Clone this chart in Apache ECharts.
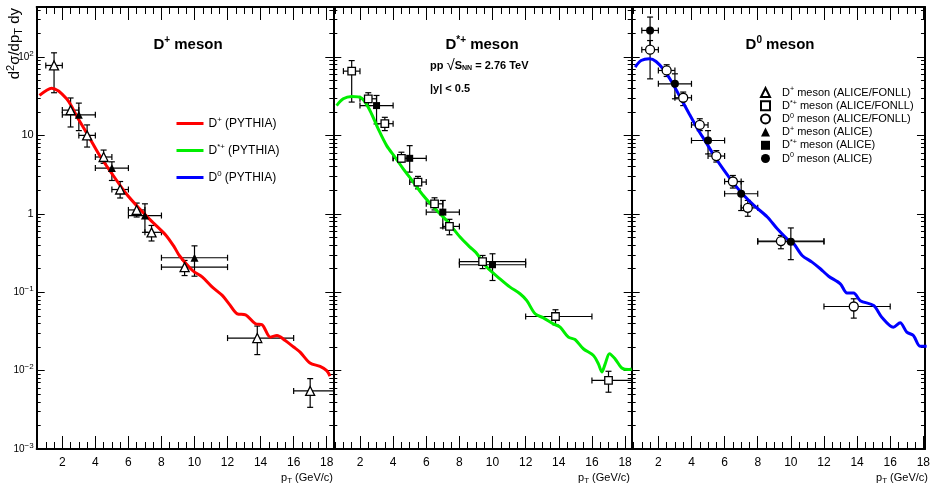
<!DOCTYPE html>
<html>
<head>
    <meta charset="utf-8">
</head>
<body style="margin: 0; background: #fff">
<div id="container" style="width: 933px; height: 487px"></div>
<script type="text/javascript" src="https://fastly.jsdelivr.net/npm/echarts@6/dist/echarts.min.js"></script>
<script type="text/javascript">
    var FONT = '"Liberation Sans", Arial, sans-serif';

    // tick positions
    var xMajor = [2, 4, 6, 8, 10, 12, 14, 16, 18];
    var xMinor = [0.5, 1, 1.5, 2.5, 3, 3.5, 4.5, 5, 5.5, 6.5, 7, 7.5, 8.5, 9, 9.5, 10.5, 11, 11.5,
        12.5, 13, 13.5, 14.5, 15, 15.5, 16.5, 17, 17.5];
    var yMajor = [0.001, 0.01, 0.1, 1, 10, 100];
    var yMinor = [0.002, 0.003, 0.004, 0.005, 0.006, 0.007, 0.008, 0.009,
        0.02, 0.03, 0.04, 0.05, 0.06, 0.07, 0.08, 0.09,
        0.2, 0.3, 0.4, 0.5, 0.6, 0.7, 0.8, 0.9,
        2, 3, 4, 5, 6, 7, 8, 9,
        20, 30, 40, 50, 60, 70, 80, 90,
        200, 300, 400];

    // PYTHIA curves [pT, value]
    var pythiaDplus = [[0.62, 32.3], [1.36, 40], [2.26, 29.3], [2.96, 16.3], [3.56, 10], [4.27, 5.5],
        [5.07, 3.1], [5.87, 1.8], [6.67, 1.16], [7.47, 0.78], [8.28, 0.53], [8.78, 0.376], [9.08, 0.294],
        [9.88, 0.189], [10.48, 0.156], [11.08, 0.116], [11.68, 0.091], [12.09, 0.071], [12.59, 0.053],
        [13.09, 0.0515], [13.69, 0.0395], [14.09, 0.0384], [14.59, 0.0267], [14.99, 0.028], [15.49, 0.0242],
        [16.0, 0.02], [16.39, 0.0172], [16.99, 0.0125], [17.6, 0.0113], [18.0, 0.010], [18.2, 0.0085]];
    var pythiaDstar = [[0.59, 24], [0.99, 29.3], [1.5, 31.4], [2.1, 29.9], [2.6, 20.8], [3.1, 12.1],
        [3.61, 7.4], [4.11, 5.3], [4.61, 3.75], [5.22, 2.54], [5.82, 1.71], [6.53, 1.16], [7.23, 0.82],
        [8.04, 0.505], [8.64, 0.376], [9.0, 0.32], [9.65, 0.209], [10.45, 0.148], [11.06, 0.116],
        [11.66, 0.0955], [12.07, 0.078], [12.57, 0.053], [13.07, 0.0471], [13.67, 0.0395], [14.08, 0.0358],
        [14.58, 0.0267], [14.98, 0.0249], [15.48, 0.019], [16.09, 0.0156], [16.39, 0.0122], [16.6, 0.0096],
        [16.8, 0.0122], [17.06, 0.0164], [17.4, 0.0141], [17.8, 0.0108], [18.2, 0.0103], [18.4, 0.0105]];
    var pythiaD0 = [[0.6, 74.3], [0.96, 90], [1.46, 95], [1.86, 87.6], [2.36, 67.3], [2.87, 45.5],
        [3.37, 29.3], [3.86, 18.9], [4.37, 12.1], [4.87, 8.2], [5.37, 5.5], [5.97, 3.57], [6.57, 2.41],
        [7.17, 1.71], [7.77, 1.28], [8.58, 0.91], [9.18, 0.644], [9.98, 0.435], [10.18, 0.414],
        [10.68, 0.294], [11.28, 0.242], [11.78, 0.199], [12.28, 0.16], [12.99, 0.128], [13.39, 0.098],
        [13.79, 0.098], [14.19, 0.078], [15.0, 0.0676], [15.49, 0.048], [16.19, 0.0358], [16.6, 0.0407],
        [17.0, 0.031], [17.4, 0.028], [17.8, 0.0205], [18.2, 0.0205]];

    // measured points [pT, value, pTlow, pThigh, low, high]
    var fonllDplus = [[1.5, 78, 1, 2, 35, 113], [2.5, 21, 2, 3, 12.8, 30], [3.5, 10, 3, 4, 7.1, 13.6],
        [4.5, 5.3, 4, 5, 4.4, 6.5], [5.5, 2.04, 5, 6, 1.59, 2.58], [6.5, 1.12, 6, 7, 0.91, 1.37],
        [7.4, 0.58, 7, 8, 0.45, 0.71], [9.4, 0.209, 8, 12, 0.163, 0.254],
        [13.8, 0.026, 12, 16, 0.016, 0.037], [17, 0.0055, 16, 24, 0.0034, 0.0079]];
    var aliceDplus = [[3, 18.3, 2, 4, 11.5, 25.8], [5, 3.83, 4, 6, 2.66, 4.6], [7, 0.95, 6, 8, 0.58, 1.34],
        [10, 0.275, 8, 12, 0.16, 0.39]];
    var fonllDstar = [[1.5, 66, 1, 2, 26.6, 90], [2.5, 29.3, 2, 3, 24, 35], [3.5, 14.1, 3, 4, 11.5, 17],
        [4.5, 5.1, 4, 5, 4.57, 6.1], [5.5, 2.54, 5, 6, 2.08, 3.0], [6.5, 1.34, 6, 7, 1.12, 1.6],
        [7.4, 0.69, 7, 8, 0.54, 0.85], [9.4, 0.246, 8, 12, 0.2, 0.294],
        [13.8, 0.049, 12, 16, 0.0384, 0.0597], [17, 0.0075, 16, 24, 0.0053, 0.0098]];
    var aliceDstar = [[3, 24, 2, 4, 14, 32.3], [5, 5.1, 4, 6, 3.4, 7.4], [7, 1.05, 6, 8, 0.66, 1.48],
        [10, 0.224, 8, 12, 0.141, 0.309]];
    var fonllD0 = [[1.5, 124, 1, 2, 52.6, 162], [2.5, 67.3, 2, 3, 56.4, 79.6], [3.5, 30.2, 3, 4, 24, 35.7],
        [4.5, 13.6, 4, 5, 11.5, 16.3], [5.5, 5.45, 5, 6, 4.57, 6.4], [6.5, 2.58, 6, 7, 2.13, 3.08],
        [7.4, 1.19, 7, 8, 0.93, 1.48], [9.4, 0.449, 8, 12, 0.358, 0.53],
        [13.8, 0.0657, 12, 16, 0.0467, 0.0824]];
    var aliceD0 = [[1.5, 218, 1, 2, 120, 323], [3, 45.5, 2, 4, 29.3, 61], [5, 8.6, 4, 6, 5.8, 11.5],
        [7, 1.8, 6, 8, 1.1, 2.58], [10, 0.44, 8, 12, 0.26, 0.66]];

    var panels = [
        {left: 36.7, width: 296.6, xmin: 0.45, xmax: 18.4},
        {left: 333.3, width: 298.4, xmin: 0.39, xmax: 18.4},
        {left: 631.7, width: 293.3, xmin: 0.39, xmax: 18.1}
    ];

    var dom = document.getElementById('container');
    var myChart = echarts.init(dom, null, {renderer: 'canvas'});

    function supName(name) {
        var m = name.match(/^D(\*\+|\+|0)(.*)$/);
        return '{a|D}{p|' + m[1] + '}{a|' + m[2] + '}';
    }

    function yLabel(v) {
        var e = Math.round(Math.log(v) / Math.LN10);
        if (e === 0) return '{m|1}';
        if (e === 1) return '{m|10}';
        return '{n|10}{e|' + (e < 0 ? '\u2212' + (-e) : e) + '}';
    }

    function renderErr(params, api) {
        var x = api.value(0), y = api.value(1);
        var l = api.coord([api.value(2), y]), r = api.coord([api.value(3), y]);
        var b = api.coord([x, api.value(4)]), t = api.coord([x, api.value(5)]);
        var c = 3;
        var st = {stroke: '#000', lineWidth: 1.2};
        function ln(x1, y1, x2, y2) {
            return {type: 'line', shape: {x1: x1, y1: y1, x2: x2, y2: y2}, style: st};
        }
        return {
            type: 'group', children: [
                ln(l[0], l[1], r[0], r[1]), ln(b[0], b[1], t[0], t[1]),
                ln(l[0], l[1] - c, l[0], l[1] + c), ln(r[0], r[1] - c, r[0], r[1] + c),
                ln(b[0] - c, b[1], b[0] + c, b[1]), ln(t[0] - c, t[1], t[0] + c, t[1])
            ]
        };
    }

    var grids = [], xAxes = [], yAxes = [];
    panels.forEach(function (p, g) {
        grids.push({left: p.left, top: 7, width: p.width, height: 442});
        ['bottom', 'top'].forEach(function (pos) {
            [true, false].forEach(function (major) {
                xAxes.push({
                    gridIndex: g, type: 'value', position: pos, min: p.xmin, max: p.xmax,
                    axisLine: {show: major, onZero: false, lineStyle: {color: '#000', width: 2}},
                    axisTick: {
                        show: true, inside: true, length: major ? 13 : 7,
                        customValues: major ? xMajor : xMinor, lineStyle: {color: '#000', width: 1}
                    },
                    axisLabel: {
                        show: major && pos === 'bottom', customValues: xMajor, margin: 8,
                        fontSize: 12, color: '#000', fontFamily: FONT
                    },
                    splitLine: {show: false}
                });
            });
        });
        ['left', 'right'].forEach(function (pos) {
            [true, false].forEach(function (major) {
                yAxes.push({
                    gridIndex: g, type: 'log', logBase: 10, position: pos, min: 0.001, max: 434,
                    axisLine: {show: major, onZero: false, lineStyle: {color: '#000', width: 2}},
                    axisTick: {
                        show: true, inside: true, length: major ? 8 : 4,
                        customValues: major ? yMajor : yMinor, lineStyle: {color: '#000', width: 1}
                    },
                    axisLabel: {
                        show: major && g === 0 && pos === 'left', customValues: yMajor, margin: 3,
                        formatter: yLabel, color: '#000',
                        rich: {
                            m: {fontSize: 11, fontFamily: FONT, color: '#000'},
                            n: {fontSize: 10, fontFamily: FONT, color: '#000'},
                            e: {fontSize: 8, fontFamily: FONT, color: '#000', padding: [0, 0, 7, 0]}
                        }
                    },
                    splitLine: {show: false}
                });
            });
        });
    });

    var series = [];
    function addPanel(g, curve, color, curveName, openPts, openSym, openName, fillPts, fillName) {
        var ax = {xAxisIndex: g * 4, yAxisIndex: g * 4};
        [openPts, fillPts].forEach(function (pts) {
            series.push(Object.assign({
                type: 'custom', data: pts, clip: true, z: 2, silent: true,
                encode: {x: 0, y: 1}, renderItem: renderErr
            }, ax));
        });
        series.push(Object.assign({
            type: 'line', name: curveName, data: curve, symbol: 'none', smooth: 0.3, z: 3,
            lineStyle: {color: color, width: 3}, itemStyle: {color: color}
        }, ax));
        series.push(Object.assign({
            type: 'scatter', name: openName, data: openPts, symbol: openSym,
            symbolSize: openSym === 'rect' ? 7.5 : 9, z: 4, encode: {x: 0, y: 1},
            itemStyle: {color: '#fff', borderColor: '#000', borderWidth: 1.3, opacity: 1}
        }, ax));
        series.push(Object.assign({
            type: 'scatter', name: fillName, data: fillPts, symbol: openSym,
            symbolSize: openSym === 'rect' ? 7 : 8, z: 4, encode: {x: 0, y: 1},
            itemStyle: {color: '#000', borderColor: '#000', borderWidth: 0, opacity: 1}
        }, ax));
    }
    addPanel(0, pythiaDplus, '#ff0000', 'D+ (PYTHIA)', fonllDplus, 'triangle', 'D+ meson (ALICE/FONLL)',
        aliceDplus, 'D+ meson (ALICE)');
    addPanel(1, pythiaDstar, '#00ee00', 'D*+ (PYTHIA)', fonllDstar, 'rect', 'D*+ meson (ALICE/FONLL)',
        aliceDstar, 'D*+ meson (ALICE)');
    addPanel(2, pythiaD0, '#0000ff', 'D0 (PYTHIA)', fonllD0, 'circle', 'D0 meson (ALICE/FONLL)',
        aliceD0, 'D0 meson (ALICE)');

    var legRich = function (size, raise) {
        return {
            a: {fontSize: size, fontFamily: FONT, color: '#000'},
            p: {fontSize: size * 0.65, fontFamily: FONT, color: '#000', padding: [0, 0, raise, 0]}
        };
    };

    function txt(x, y, text, rich, align, extra) {
        return Object.assign({
            type: 'text', x: x, y: y, silent: true,
            style: {text: text, rich: rich, align: align || 'center', verticalAlign: 'middle'}
        }, extra || {});
    }
    var titleRich = {
        t: {fontSize: 15, fontWeight: 'bold', fontFamily: FONT, color: '#000'},
        s: {fontSize: 10, fontWeight: 'bold', fontFamily: FONT, color: '#000', padding: [0, 0, 9, 0]}
    };
    var subRich = {
        b: {fontSize: 11, fontWeight: 'bold', fontFamily: FONT, color: '#000'},
        r: {fontSize: 15, fontFamily: FONT, color: '#000'},
        n: {fontSize: 7, fontWeight: 'bold', fontFamily: FONT, color: '#000', padding: [5, 0, 0, 0]}
    };
    var axRich = {
        a: {fontSize: 11, fontFamily: FONT, color: '#000'},
        s: {fontSize: 8, fontFamily: FONT, color: '#000', padding: [0, 0, 7, 0]},
        n: {fontSize: 8, fontFamily: FONT, color: '#000', padding: [6, 0, 0, 0]}
    };
    var yRich = {
        a: {fontSize: 15, fontFamily: FONT, color: '#000'},
        s: {fontSize: 11, fontFamily: FONT, color: '#000', padding: [0, 0, 9, 0]},
        n: {fontSize: 11, fontFamily: FONT, color: '#000', padding: [8, 0, 0, 0]}
    };

    var option = {
        backgroundColor: '#fff',
        animation: false,
        grid: grids,
        xAxis: xAxes,
        yAxis: yAxes,
        legend: [{
            data: ['D+ (PYTHIA)', 'D*+ (PYTHIA)', 'D0 (PYTHIA)'],
            orient: 'vertical', left: 171.5, top: 110.5, itemWidth: 27, itemHeight: 3, itemGap: 13,
            icon: 'rect', selectedMode: false, formatter: supName,
            textStyle: {fontSize: 12, fontFamily: FONT, color: '#000', rich: legRich(12, 8)}
        }, {
            data: ['D+ meson (ALICE/FONLL)', 'D*+ meson (ALICE/FONLL)', 'D0 meson (ALICE/FONLL)',
                'D+ meson (ALICE)', 'D*+ meson (ALICE)', 'D0 meson (ALICE)'],
            orient: 'vertical', left: 755, top: 81, itemWidth: 9, itemHeight: 9, itemGap: 1.2,
            selectedMode: false, formatter: supName,
            textStyle: {fontSize: 10, fontFamily: FONT, color: '#000', padding: [0, 0, 0, 7], rich: legRich(11, 6)}
        }],
        graphic: [
            txt(188, 45, '{t|D}{s|+}{t| meson}', titleRich),
            txt(482, 45, '{t|D}{s|*+}{t| meson}', titleRich),
            txt(780, 45, '{t|D}{s|0}{t| meson}', titleRich),
            txt(430, 66, '{b|pp }{r|\u221A}{b|S}{n|NN}{b| = 2.76 TeV}', subRich, 'left'),
            txt(430, 89, '{b||y| < 0.5}', subRich, 'left'),
            txt(333, 478, '{a|p}{n|T}{a| (GeV/c)}', axRich, 'right'),
            txt(630, 478, '{a|p}{n|T}{a| (GeV/c)}', axRich, 'right'),
            txt(928, 478, '{a|p}{n|T}{a| (GeV/c)}', axRich, 'right'),
            txt(15, 8, '{a|d}{s|2}{a|\u03C3/dp}{n|T}{a| dy}', yRich, 'right', {rotation: Math.PI / 2})
        ],
        series: series
    };

    myChart.setOption(option);
    window.addEventListener('resize', myChart.resize);
</script>
</body>
</html>
